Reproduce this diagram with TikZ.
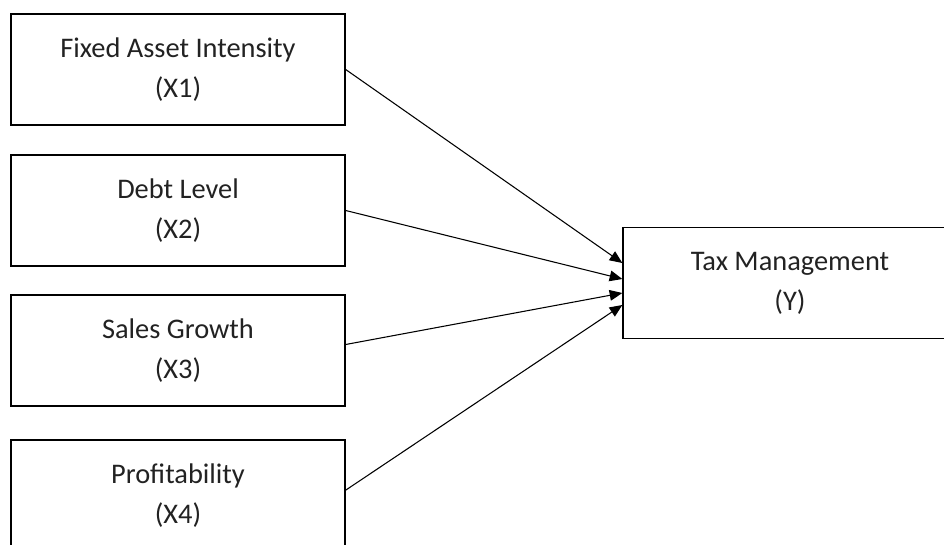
\documentclass[tikz,border=0pt]{standalone}
\usepackage{fontspec}
\setmainfont{Carlito}
\usepackage{tikz}
\usetikzlibrary{arrows.meta}

\definecolor{inkgray}{HTML}{222222}

\tikzset{
  varbox/.style={draw, line width=1pt, rectangle, align=center, inner sep=0pt,
    minimum width=250.5pt, minimum height=83.25pt, text=inkgray,
    font=\fontsize{21.3}{30}\selectfont},
  effect/.style={line width=0.8pt, -{Triangle[length=9.5pt,width=8pt]}}
}

\begin{document}
\begin{tikzpicture}[x=0.75pt, y=-0.75pt]
    % 画布范围
    \clip (0,0) rectangle (944,545);
    % 自变量方框
    \foreach \i/\lbl/\yy in {1/Fixed Asset Intensity/69.5, 2/Debt Level/210.5,
                             3/Sales Growth/350.5, 4/Profitability/495.5} {
      \node[varbox] (x\i) at (178,\yy) {\lbl\\(X\i)};   % 第 \i 个变量
    }
    % 因变量方框
    \node[varbox] (y) at (790,283) {Tax Management\\(Y)};
    % 箭头
    \foreach \i/\s/\t in {1/0pt/15pt, 2/0pt/3pt, 3/4.5pt/-7.5pt, 4/4pt/-16.5pt} {
      \draw[effect] ([yshift=\s]x\i.east) -- ([yshift=\t]y.west);
    }
\end{tikzpicture}
\end{document}
